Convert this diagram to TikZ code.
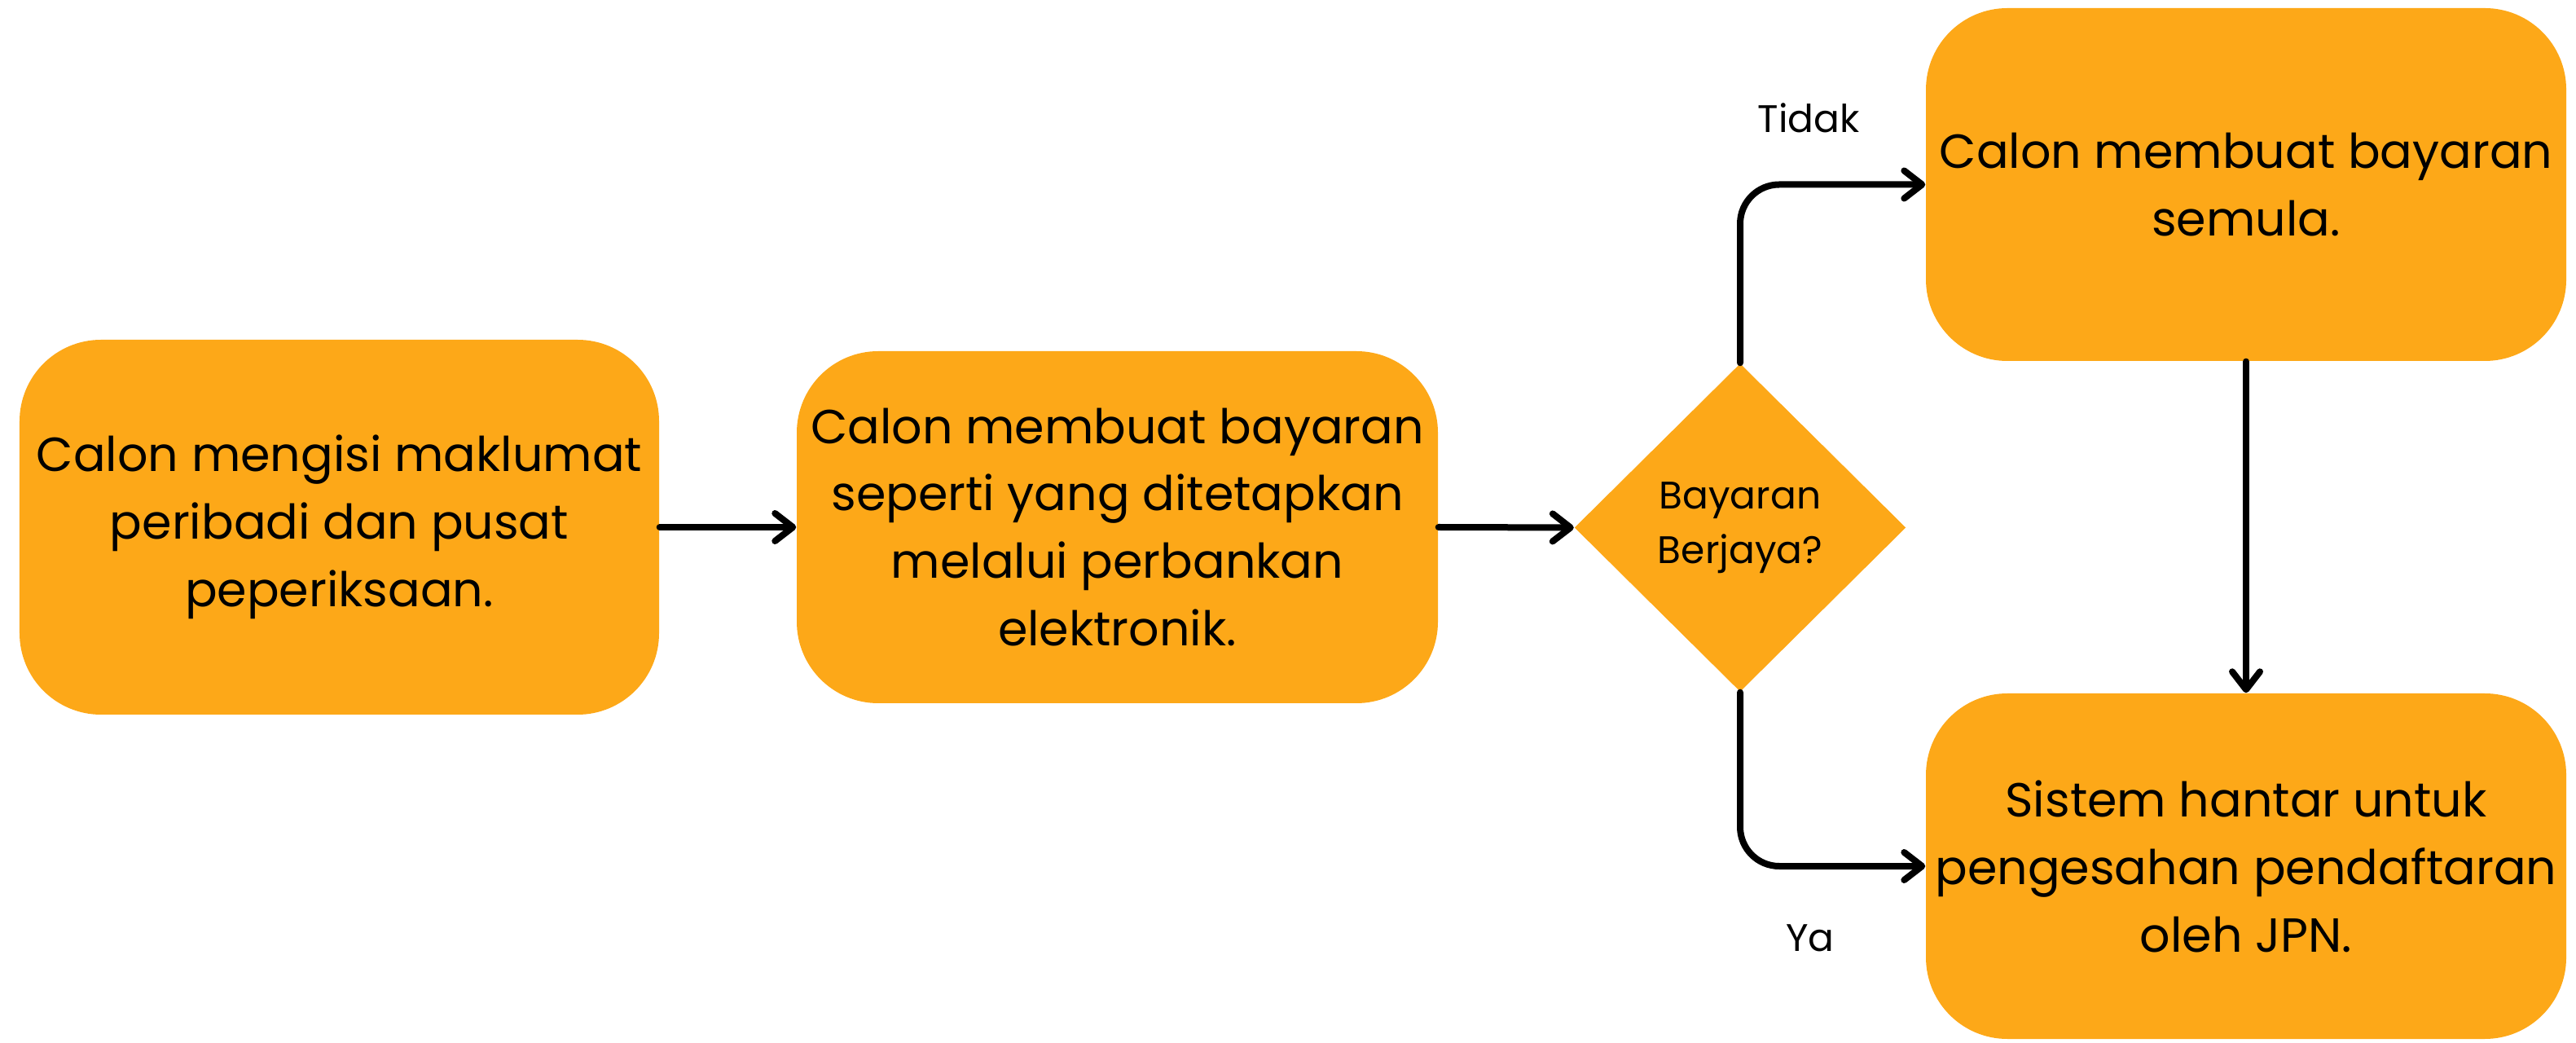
\documentclass[tikz,border=0pt]{standalone}
\usepackage{fontspec}
\setmainfont{Poppins}
\usetikzlibrary{arrows.meta,shapes.geometric}
\definecolor{boxorange}{RGB}{253,168,24}
\tikzset{
  procbox/.style={fill=boxorange, rounded corners=1cm, inner sep=0pt, align=center,
    font=\fontsize{16.7pt}{23.6pt}\selectfont},
  decbox/.style={diamond, fill=boxorange, inner sep=0pt, align=center,
    minimum width=4.07cm, minimum height=4.03cm, font=\fontsize{13.4pt}{19pt}\selectfont},
  lbl/.style={font=\fontsize{13.4pt}{19pt}\selectfont, inner sep=0pt},
  arr/.style={line width=0.08cm, black, line cap=round, line join=round,
    -{Straight Barb[length=0.22cm, width=0.34cm, line cap=round, line join=round]}}
}
\begin{document}
\begin{tikzpicture}
\useasboundingbox (0,0) rectangle (31.62,-12.8);
\node[procbox, minimum width=7.85cm, minimum height=4.60cm] (b1) at (4.165,-6.47)
  {Calon mengisi maklumat\\peribadi dan pusat\\peperiksaan.};
\node[procbox, minimum width=7.87cm, minimum height=4.32cm] (b2) at (13.715,-6.47)
  {Calon membuat bayaran\\seperti yang ditetapkan\\melalui perbankan\\elektronik.};
\node[decbox] (d) at (21.36,-6.475) {Bayaran\\Berjaya?};
\node[procbox, minimum width=7.86cm, minimum height=4.33cm] (b3) at (27.57,-2.265)
  {Calon membuat bayaran\\semula.};
\node[procbox, minimum width=7.86cm, minimum height=4.24cm] (b4) at (27.57,-10.63)
  {Sistem hantar untuk\\pengesahan pendaftaran\\oleh JPN.};
\node[lbl] (tidak) at (22.20,-1.45) {Tidak};
\node[lbl] (ya) at (22.22,-11.51) {Ya};
\draw[arr] (b1.east) -- (b2.west);
\draw[arr] (b2.east) -- (d.west);
\draw[arr, rounded corners=0.48cm] (d.north) |- (b3.west);
\draw[arr, rounded corners=0.48cm] (d.south) |- (b4.west);
\draw[arr] (b3.south) -- (b4.north);
\end{tikzpicture}
\end{document}
